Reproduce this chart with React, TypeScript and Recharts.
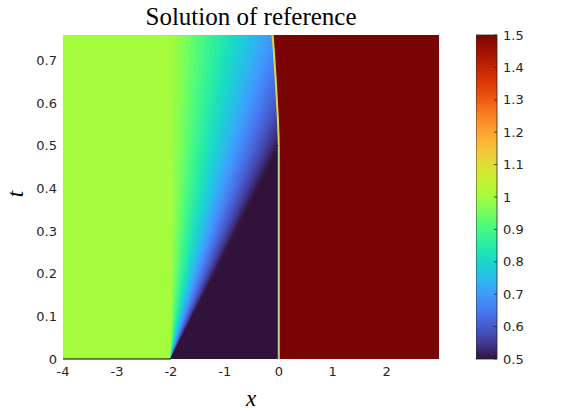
import React from 'react';
import { ComposedChart, Area, Line, XAxis, YAxis, ReferenceLine, BarChart, Bar } from 'recharts';

// ---- axes / ticks ----
const xTicks = [-4, -3, -2, -1, 0, 1, 2];
const tTicks = [0, 0.1, 0.2, 0.3, 0.4, 0.5, 0.6, 0.7];
const cbTicks = [0.5, 0.6, 0.7, 0.8, 0.9, 1, 1.1, 1.2, 1.3, 1.4, 1.5];
const xDomain: [number, number] = [-4, 2.97];
const tDomain: [number, number] = [0, 0.76];
const cbDomain: [number, number] = [0.5, 1.5];

// ---- solution states ----
const leftState = 1.0;
const middleState = 0.5;
const rightState = 1.5;
const fanApexX = -2;
const shockBaseX = 0;
const shockKinkT = 0.5;

// rarefaction fan: ray speeds (dx/dt) and value on each wedge between consecutive rays
const fanSpeeds = [
  0, 0.125, 0.25, 0.375, 0.5, 0.625, 0.75, 0.875, 1, 1.125, 1.25, 1.375, 1.5, 1.625, 1.75, 1.875,
  2, 2.125, 2.25, 2.375, 2.5, 2.625, 2.75, 2.875, 3, 3.125, 3.25, 3.375, 3.5, 3.625, 3.75, 3.875, 4,
];
const fanValues = [
  0.995, 0.982, 0.966, 0.949, 0.932, 0.915, 0.9, 0.884, 0.868, 0.852, 0.836, 0.82, 0.805, 0.79, 0.773, 0.758,
  0.742, 0.727, 0.711, 0.695, 0.68, 0.664, 0.648, 0.633, 0.617, 0.602, 0.586, 0.57, 0.555, 0.54, 0.525, 0.51,
];

// shock path (x at time t)
const shockT = [0, 0.5, 0.52, 0.56, 0.6, 0.64, 0.68, 0.72, 0.76];
const shockX = [0, 0, -0.004, -0.015, -0.033, -0.05, -0.07, -0.09, -0.115];

// ---- turbo colormap (style) ----
const turboStops: [number, number, number][] = [
  [48, 18, 59], [64, 58, 150], [69, 91, 205], [71, 122, 240], [62, 155, 254], [40, 188, 235],
  [24, 215, 203], [38, 236, 166], [70, 248, 132], [114, 254, 94], [164, 252, 60], [196, 241, 52],
  [225, 221, 55], [246, 195, 58], [254, 164, 49], [250, 129, 34], [239, 90, 17], [220, 59, 7],
  [194, 36, 3], [160, 17, 1], [122, 4, 3],
];
function turbo(u: number): string {
  const f = Math.max(0, Math.min(1, (u - cbDomain[0]) / (cbDomain[1] - cbDomain[0])));
  const p = f * (turboStops.length - 1);
  const i = Math.min(turboStops.length - 2, Math.floor(p));
  const w = p - i;
  const a = turboStops[i], b = turboStops[i + 1];
  const c = a.map((v, k) => Math.round(v + (b[k] - v) * w));
  return `rgb(${c[0]},${c[1]},${c[2]})`;
}

const tTop = tDomain[1];

const leftRegion = [
  { x: xDomain[0], v: [0, tTop] },
  { x: fanApexX, v: [0, tTop] },
];

const fanWedges = fanValues.map((u, i) => {
  const s0 = fanSpeeds[i];
  const s1 = fanSpeeds[i + 1];
  return {
    color: turbo(u),
    data: [
      { x: fanApexX, v: [0, 0] },
      { x: fanApexX + s0 * tTop, v: [(tTop * s0) / s1, tTop] },
      { x: fanApexX + s1 * tTop, v: [tTop, tTop] },
    ],
  };
});

const middleRegion = [
  { x: fanApexX, v: [0, 0] },
  { x: shockBaseX, v: [0, shockKinkT] },
];

const rightRegion = [
  ...shockX.map((x, i) => ({ x, v: [shockT[i], tTop] })).reverse(),
  { x: xDomain[1], v: [0, tTop] },
];

const shockLower = shockX.slice(0, 2).map((x, i) => ({ x, t: shockT[i] }));
const shockUpper = shockX.slice(1).map((x, i) => ({ x, t: shockT[i + 1] }));

const colorbarData = [{ k: 'cb', v: cbDomain }];

const tickStyle = { fontSize: 13, fill: '#262626', fontFamily: 'DejaVu Sans' };

const CbTick = (props: any) => {
  const { x, y, payload } = props;
  return (
    <g>
      <line x1={x - 8} x2={x - 5} y1={y} y2={y} stroke="#262626" strokeWidth={0.8} />
      <text x={x + 1} y={y} dy="0.355em" textAnchor="start" {...tickStyle}>
        {String(payload.value)}
      </text>
    </g>
  );
};

export default function App() {
  return (
    <div style={{ position: 'absolute', left: 0, top: 0, width: 570, height: 413, background: '#fff' }}>
      <svg width={0} height={0} style={{ position: 'absolute' }}>
        <defs>
          <linearGradient id="turboGrad" x1="0" y1="1" x2="0" y2="0">
            {turboStops.map((c, i) => (
              <stop key={i} offset={i / (turboStops.length - 1)} stopColor={`rgb(${c[0]},${c[1]},${c[2]})`} />
            ))}
          </linearGradient>
        </defs>
      </svg>

      <div style={{ position: 'absolute', left: 0, top: 0 }}>
        <ComposedChart width={570} height={413} margin={{ top: 35, right: 131, bottom: 0, left: 0 }}>
          <XAxis
            type="number"
            dataKey="x"
            domain={xDomain}
            ticks={xTicks}
            allowDataOverflow
            height={54}
            axisLine={false}
            tickLine={false}
            tickSize={6}
            tickMargin={2}
            tick={tickStyle}
          />
          <YAxis
            type="number"
            domain={tDomain}
            ticks={tTicks}
            allowDataOverflow
            width={63}
            axisLine={false}
            tickLine={false}
            tickSize={4}
            tickMargin={2}
            tick={tickStyle}
          />
          <Area
            data={leftRegion}
            dataKey="v"
            type="linear"
            fill={turbo(leftState)}
            fillOpacity={1}
            stroke={turbo(leftState)}
            strokeWidth={0.8}
            dot={false}
            activeDot={false}
            isAnimationActive={false}
          />
          {fanWedges.map((w, i) => (
            <Area
              key={i}
              data={w.data}
              dataKey="v"
              type="linear"
              fill={w.color}
              fillOpacity={1}
              stroke={w.color}
              strokeWidth={0.8}
              dot={false}
              activeDot={false}
              isAnimationActive={false}
            />
          ))}
          <Area
            data={middleRegion}
            dataKey="v"
            type="linear"
            fill={turbo(middleState)}
            fillOpacity={1}
            stroke={turbo(middleState)}
            strokeWidth={0.8}
            dot={false}
            activeDot={false}
            isAnimationActive={false}
          />
          <Area
            data={rightRegion}
            dataKey="v"
            type="linear"
            fill={turbo(rightState)}
            fillOpacity={1}
            stroke={turbo(rightState)}
            strokeWidth={0.5}
            dot={false}
            activeDot={false}
            isAnimationActive={false}
          />
          <Line
            data={shockLower}
            dataKey="t"
            type="linear"
            stroke="#a6de96"
            strokeWidth={2}
            dot={false}
            activeDot={false}
            isAnimationActive={false}
          />
          <Line
            data={shockUpper}
            dataKey="t"
            type="linear"
            stroke="#d6dc4c"
            strokeWidth={2}
            dot={false}
            activeDot={false}
            isAnimationActive={false}
          />
          <ReferenceLine
            segment={[
              { x: xDomain[0], y: 0 },
              { x: fanApexX, y: 0 },
            ]}
            stroke="#000"
            strokeWidth={1}
          />
        </ComposedChart>
      </div>

      <div style={{ position: 'absolute', left: 476, top: 0 }}>
        <BarChart
          width={80}
          height={413}
          data={colorbarData}
          margin={{ top: 35, right: 0, bottom: 54, left: 0 }}
          barCategoryGap={0}
          barGap={0}
        >
          <XAxis dataKey="k" hide />
          <YAxis
            orientation="right"
            type="number"
            domain={cbDomain}
            ticks={cbTicks}
            width={59}
            axisLine={false}
            tickLine={false}
            tickSize={0}
            tickMargin={5}
            tick={<CbTick />}
          />
          <Bar dataKey="v" fill="url(#turboGrad)" stroke="#262626" strokeWidth={0.8} isAnimationActive={false} />
        </BarChart>
      </div>

      <div
        style={{
          position: 'absolute',
          left: 0,
          width: 502,
          top: 4,
          textAlign: 'center',
          fontFamily: '"Liberation Serif", serif',
          fontSize: 25,
          lineHeight: '25px',
          color: '#000',
          whiteSpace: 'nowrap',
        }}
      >
        Solution of reference
      </div>

      <div
        style={{
          position: 'absolute',
          left: 231,
          width: 40,
          top: 387,
          textAlign: 'center',
          fontFamily: '"Liberation Serif", serif',
          fontStyle: 'italic',
          fontSize: 23,
          lineHeight: '23px',
          color: '#000',
        }}
      >
        x
      </div>

      <div
        style={{
          position: 'absolute',
          left: 15,
          top: 194,
          transform: 'translate(-50%, -50%) rotate(-90deg)',
          fontFamily: '"Liberation Serif", serif',
          fontStyle: 'italic',
          fontSize: 23,
          lineHeight: '23px',
          color: '#000',
        }}
      >
        t
      </div>
    </div>
  );
}
